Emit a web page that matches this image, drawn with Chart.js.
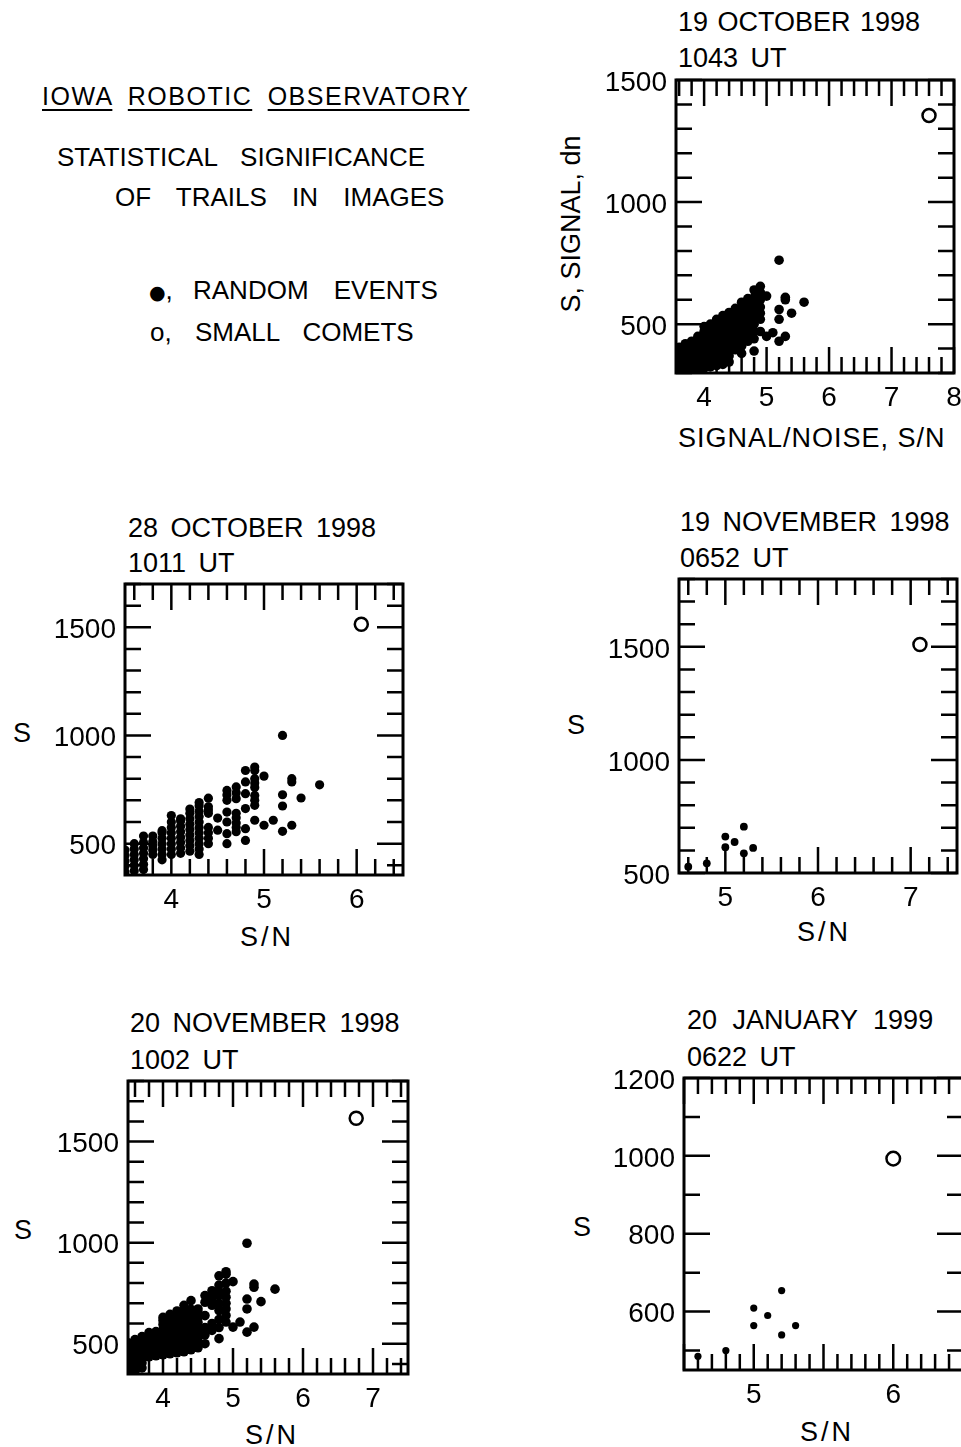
<!DOCTYPE html>
<html>
<head>
<meta charset="utf-8">
<script src="https://cdn.jsdelivr.net/npm/chart.js@4.4.1/dist/chart.umd.min.js"></script>
<style>
  html, body { margin: 0; padding: 0; background: #fff; }
  body { position: relative; width: 961px; height: 1447px; overflow: hidden;
         font-family: "Liberation Sans", Arial, sans-serif; color: #000; }
  .t { position: absolute; line-height: 1; white-space: nowrap; font-size: 27px; }
  .h { word-spacing: 5px; }
  .sn { letter-spacing: 3px; }
  u { text-decoration-thickness: 2px; text-underline-offset: 4px; }
  canvas { position: absolute; }
</style>
</head>
<body>
<div class="t" style="left:42px;top:84px;font-size:25px;letter-spacing:1.5px;word-spacing:7px"><u>IOWA</u> <u>ROBOTIC</u> <u>OBSERVATORY</u></div>
<div class="t" style="left:57px;top:143.6px;font-size:26px;word-spacing:16px">STATISTICAL SIGNIFICANCE</div>
<div class="t" style="left:115px;top:183.6px;font-size:26px;word-spacing:18px">OF TRAILS IN IMAGES</div>
<div class="t" style="left:149px;top:277px;font-size:26px"><span style="font-size:19px;font-family:'DejaVu Sans'">●</span>,</div>
<div class="t" style="left:193px;top:277px;font-size:26px;word-spacing:18px">RANDOM EVENTS</div>
<div class="t" style="left:150px;top:318.6px;font-size:26px;word-spacing:16px">o, SMALL COMETS</div>

<div class="t" style="left:678px;top:8.5px;word-spacing:2px">19 OCTOBER 1998</div>
<div class="t h" style="left:678px;top:44.8px">1043 UT</div>
<div class="t" style="left:570.5px;top:224px;transform:translate(-50%,-50%) rotate(-90deg)">S, SIGNAL, dn</div>
<div class="t" style="left:678px;top:424.8px;letter-spacing:1px">SIGNAL/NOISE, S/N</div>

<div class="t h" style="left:128px;top:514.8px">28 OCTOBER 1998</div>
<div class="t h" style="left:128px;top:549.8px">1011 UT</div>
<div class="t" style="left:13px;top:719.8px">S</div>
<div class="t sn" style="left:240px;top:923.8px">S/N</div>

<div class="t h" style="left:680px;top:508.8px">19 NOVEMBER 1998</div>
<div class="t h" style="left:680px;top:544.8px">0652 UT</div>
<div class="t" style="left:567px;top:711.8px">S</div>
<div class="t sn" style="left:797px;top:918.8px">S/N</div>

<div class="t h" style="left:130px;top:1009.8px">20 NOVEMBER 1998</div>
<div class="t h" style="left:130px;top:1046.8px">1002 UT</div>
<div class="t" style="left:14px;top:1216.8px">S</div>
<div class="t sn" style="left:245px;top:1421.8px">S/N</div>

<div class="t" style="left:687px;top:1006.8px;word-spacing:8px">20 JANUARY 1999</div>
<div class="t h" style="left:687px;top:1043.8px">0622 UT</div>
<div class="t" style="left:573px;top:1213.8px">S</div>
<div class="t sn" style="left:800px;top:1418.8px">S/N</div>

<script>
// each entry: [S/N, [signal values of the events in that S/N column]]
const oct19Random = [
  [3.5, [305, 330, 355, 380, 400]],
  [3.6, [305, 330, 355, 380, 405]],
  [3.7, [310, 335, 360, 385, 410, 420]],
  [3.8, [310, 335, 360, 385, 410, 430]],
  [3.9, [315, 340, 365, 390, 415, 440, 450]],
  [4.0, [320, 345, 370, 395, 420, 445, 470, 490]],
  [4.1, [325, 350, 375, 400, 425, 450, 475, 500]],
  [4.2, [330, 355, 380, 405, 430, 455, 480, 505, 520]],
  [4.3, [335, 360, 385, 410, 435, 460, 485, 510, 535]],
  [4.4, [345, 370, 395, 420, 445, 470, 495, 520, 548]],
  [4.5, [395, 420, 445, 470, 495, 520, 545, 565]],
  [4.6, [380, 410, 440, 465, 490, 515, 540, 565, 590]],
  [4.7, [430, 455, 480, 505, 530, 555, 580, 605]],
  [4.8, [390, 440, 470, 500, 525, 550, 580, 610, 640]],
  [4.9, [470, 520, 545, 570, 600, 630, 655]],
  [5.0, [450, 615]],
  [5.1, [465]],
  [5.2, [430, 520, 560, 762]],
  [5.3, [450, 600, 610]],
  [5.4, [545]],
  [5.6, [590]]
]
const oct19Comets = [[7.6, [1355]]]
const oct19XLabels = [4, 5, 6, 7, 8]
const oct19YLabels = [500, 1000, 1500]

const oct28Random = [
  [3.5, [370, 395, 420, 445, 470]],
  [3.6, [375, 400, 425, 450, 475, 500]],
  [3.7, [380, 405, 430, 455, 480, 505, 535]],
  [3.8, [450, 470, 490, 510, 535]],
  [3.9, [425, 450, 475, 500, 525, 550, 560]],
  [4.0, [450, 475, 500, 525, 550, 575, 600, 630]],
  [4.1, [455, 480, 505, 530, 555, 580, 605, 615]],
  [4.2, [465, 490, 515, 540, 565, 590, 615, 640, 660]],
  [4.3, [450, 475, 500, 525, 550, 575, 600, 625, 650, 675, 690]],
  [4.4, [500, 525, 550, 575, 640, 655, 670, 710]],
  [4.5, [562, 618]],
  [4.6, [500, 546, 600, 646, 700, 725, 746]],
  [4.7, [555, 575, 595, 620, 640, 708, 735, 762]],
  [4.8, [515, 569, 662, 731, 785, 838]],
  [4.9, [608, 677, 700, 723, 760, 780, 800, 838, 854]],
  [5.0, [585, 812]],
  [5.1, [608]],
  [5.2, [557, 674, 726, 1000]],
  [5.3, [585, 785, 800]],
  [5.4, [711]],
  [5.6, [772]]
]
const oct28Comets = [[6.05, [1514]]]
const oct28XLabels = [4, 5, 6]
const oct28YLabels = [500, 1000, 1500]

const nov19Random = [
  [4.6, [528]],
  [4.8, [543]],
  [5.0, [614, 661]],
  [5.1, [637]],
  [5.2, [587, 705]],
  [5.3, [611]]
]
const nov19Comets = [[7.1, [1510]]]
const nov19XLabels = [5, 6, 7]
const nov19YLabels = [500, 1000, 1500]

const nov20Random = [
  [3.5, [360, 385, 410, 435, 460, 485, 505]],
  [3.6, [365, 390, 415, 440, 465, 490, 520]],
  [3.7, [380, 405, 430, 455, 480, 505, 535]],
  [3.8, [435, 460, 485, 510, 535, 555]],
  [3.9, [440, 465, 490, 515, 540, 560]],
  [4.0, [445, 470, 495, 520, 545, 570, 595, 615, 630]],
  [4.1, [450, 475, 500, 525, 550, 575, 600, 625, 645]],
  [4.2, [455, 480, 505, 530, 555, 580, 605, 630, 662]],
  [4.3, [460, 485, 510, 535, 560, 585, 610, 635, 660, 690]],
  [4.4, [470, 495, 520, 545, 570, 595, 620, 645, 670, 713]],
  [4.5, [480, 505, 530, 555, 580, 605, 630, 655, 672]],
  [4.6, [500, 544, 580, 639, 705, 738]],
  [4.7, [566, 600, 690, 721, 745, 762]],
  [4.8, [525, 580, 620, 664, 700, 738, 754, 790, 836]],
  [4.9, [607, 640, 672, 700, 730, 760, 800, 844, 856]],
  [5.0, [582, 807]],
  [5.1, [607]],
  [5.2, [557, 672, 721, 997]],
  [5.3, [582, 779, 795]],
  [5.4, [708]],
  [5.6, [770]]
]
const nov20Comets = [[6.76, [1616]]]
const nov20XLabels = [4, 5, 6, 7]
const nov20YLabels = [500, 1000, 1500]

const jan20Random = [
  [4.6, [485]],
  [4.8, [500]],
  [5.0, [564, 609]],
  [5.1, [590]],
  [5.2, [540, 654]],
  [5.3, [564]]
]
const jan20Comets = [[6.0, [993]]]
const jan20XLabels = [5, 6]
const jan20YLabels = [600, 800, 1000, 1200]

Chart.defaults.font.family = '"Liberation Sans", Arial, sans-serif'
Chart.defaults.color = '#000'

const YW = 120, XH = 60, PT = 18, PR = 14

function pts(cols) {
  return cols.flatMap(([x, ys]) => ys.map((y) => ({ x, y })))
}

function steps(min, max, step, major) {
  const out = []
  for (let k = Math.ceil(min / step - 1e-6); k * step <= max + 1e-6; k++) {
    const v = k * step
    const r = v / major
    out.push({ v, major: Math.abs(r - Math.round(r)) < 1e-6 })
  }
  return out
}

// frame with inward tick marks on all four sides
const frameTicks = {
  id: 'frameTicks',
  beforeDatasetsDraw(chart, args, opts) {
    const { ctx, chartArea: a } = chart
    const xs = chart.scales.x, ys = chart.scales.y
    ctx.save()
    ctx.strokeStyle = '#000'
    ctx.lineWidth = 2.5
    ctx.beginPath()
    for (const t of opts.xTicks) {
      const px = xs.getPixelForValue(t.v), len = t.major ? 26 : 16
      ctx.moveTo(px, a.bottom); ctx.lineTo(px, a.bottom - len)
      ctx.moveTo(px, a.top); ctx.lineTo(px, a.top + len)
    }
    for (const t of opts.yTicks) {
      const py = ys.getPixelForValue(t.v), len = t.major ? 26 : 16
      ctx.moveTo(a.left, py); ctx.lineTo(a.left + len, py)
      ctx.moveTo(a.right, py); ctx.lineTo(a.right - len, py)
    }
    ctx.stroke()
    ctx.lineWidth = 3
    ctx.strokeRect(a.left, a.top, a.right - a.left, a.bottom - a.top)
    ctx.restore()
  }
}

const panels = [
  { box: [676, 80, 954, 373], x: [3.55, 8], y: [300, 1500], xLabels: oct19XLabels, yLabels: oct19YLabels,
    xStep: [0.2, 1], yStep: [100, 500], dot: 4.8, ring: 6.5, random: oct19Random, comets: oct19Comets },
  { box: [125, 583.5, 403.5, 875], x: [3.5, 6.5], y: [355, 1700], xLabels: oct28XLabels, yLabels: oct28YLabels,
    xStep: [0.2, 1], yStep: [100, 500], dot: 4.6, ring: 6.5, random: oct28Random, comets: oct28Comets },
  { box: [679, 579, 957, 873], x: [4.5, 7.5], y: [500, 1800], xLabels: nov19XLabels, yLabels: nov19YLabels,
    xStep: [0.2, 1], yStep: [100, 500], dot: 3.9, ring: 6.5, random: nov19Random, comets: nov19Comets },
  { box: [128, 1081, 408, 1374], x: [3.5, 7.5], y: [350, 1800], xLabels: nov20XLabels, yLabels: nov20YLabels,
    xStep: [0.2, 1], yStep: [100, 500], dot: 4.8, ring: 6.5, random: nov20Random, comets: nov20Comets },
  { box: [684, 1077.5, 963, 1370], x: [4.5, 6.5], y: [450, 1200], xLabels: jan20XLabels, yLabels: jan20YLabels,
    xStep: [0.1, 0.5], yStep: [100, 200], dot: 3.6, ring: 6.8, random: jan20Random, comets: jan20Comets }
]

panels.forEach((p) => {
  const [L, T, R, B] = p.box
  const canvas = document.createElement('canvas')
  canvas.width = YW + (R - L) + PR
  canvas.height = PT + (B - T) + XH
  canvas.style.left = (L - YW) + 'px'
  canvas.style.top = (T - PT) + 'px'
  document.body.appendChild(canvas)

  new Chart(canvas.getContext('2d'), {
    type: 'scatter',
    data: {
      datasets: [
        {
          label: 'RANDOM EVENTS',
          data: pts(p.random),
          pointRadius: p.dot,
          pointHoverRadius: p.dot,
          pointBackgroundColor: '#000',
          pointBorderWidth: 0
        },
        {
          label: 'SMALL COMETS',
          data: pts(p.comets),
          pointRadius: p.ring,
          pointHoverRadius: p.ring,
          pointBackgroundColor: 'rgba(0,0,0,0)',
          pointBorderColor: '#000',
          pointBorderWidth: 2.5
        }
      ]
    },
    options: {
      responsive: false,
      animation: false,
      devicePixelRatio: 1,
      layout: { padding: { left: 0, top: PT, right: PR, bottom: 0 } },
      plugins: {
        legend: { display: false },
        tooltip: { enabled: false },
        frameTicks: {
          xTicks: steps(p.x[0], p.x[1], p.xStep[0], p.xStep[1]),
          yTicks: steps(p.y[0], p.y[1], p.yStep[0], p.yStep[1])
        }
      },
      scales: {
        x: {
          type: 'linear',
          min: p.x[0],
          max: p.x[1],
          afterBuildTicks: (s) => { s.ticks = p.xLabels.map((v) => ({ value: v })) },
          afterFit: (s) => { s.height = XH; s.paddingLeft = 0; s.paddingRight = 0 },
          grid: { display: false, drawTicks: false },
          border: { display: false },
          ticks: { font: { size: 28 }, padding: 8, maxRotation: 0, autoSkip: false, callback: (v) => String(v) }
        },
        y: {
          type: 'linear',
          min: p.y[0],
          max: p.y[1],
          afterBuildTicks: (s) => { s.ticks = p.yLabels.map((v) => ({ value: v })) },
          afterFit: (s) => { s.width = YW; s.paddingTop = 0; s.paddingBottom = 0 },
          grid: { display: false, drawTicks: false },
          border: { display: false },
          ticks: { font: { size: 28 }, padding: 9, labelOffset: 3, autoSkip: false, callback: (v) => String(v) }
        }
      }
    },
    plugins: [frameTicks]
  })
})
</script>
</body>
</html>
